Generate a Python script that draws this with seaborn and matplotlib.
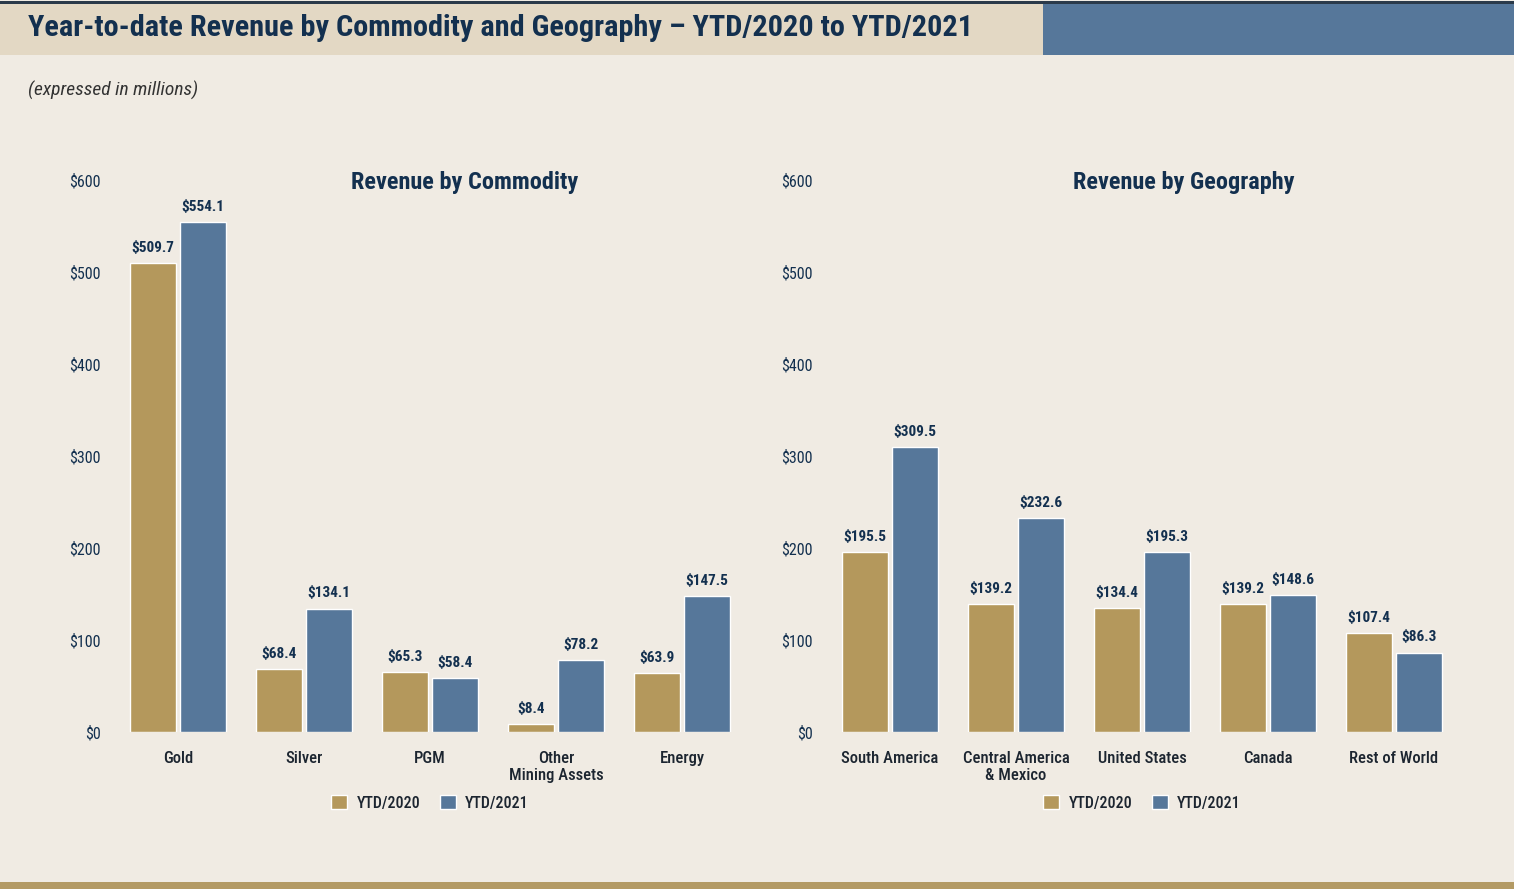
import pandas as pd
import matplotlib.pyplot as plt
import seaborn as sns
from matplotlib import font_manager as fm
from matplotlib.patches import Rectangle

# Receita acumulada no ano (em milhões)
commodities = ['Gold', 'Silver', 'PGM', 'Other\nMining Assets', 'Energy']
commodity_2020 = [509.7, 68.4, 65.3, 8.4, 63.9]
commodity_2021 = [554.1, 134.1, 58.4, 78.2, 147.5]

regions = ['South America', 'Central America\n& Mexico', 'United States', 'Canada', 'Rest of World']
region_2020 = [195.5, 139.2, 134.4, 139.2, 107.4]
region_2021 = [309.5, 232.6, 195.3, 148.6, 86.3]

years = ['YTD/2020', 'YTD/2021']
y_ticks = [0, 100, 200, 300, 400, 500, 600]

BG = '#f0ebe3'
NAVY = '#13304f'
GOLD = '#b4985c'
BLUE = '#56779a'

# fonte estreita, se houver
installed = {f.name for f in fm.fontManager.ttflist}
narrow = 'Liberation Sans'
for cand in ['Roboto Condensed', 'Liberation Sans Narrow', 'Archivo Narrow']:
    if cand in installed:
        narrow = cand
        break
FONT = [narrow, 'DejaVu Sans']


def long_df(cats, v20, v21):
    return pd.DataFrame({
        'cat': cats * 2,
        'val': v20 + v21,
        'year': [years[0]] * len(cats) + [years[1]] * len(cats),
    })


sns.set_theme(style='white')
plt.rcParams['font.family'] = FONT

fig = plt.figure(figsize=(15.14, 8.89), dpi=100, facecolor=BG)

# faixas do cabeçalho e rodapé
fig.patches.append(Rectangle((0, 1 - 55 / 889), 1043 / 1514, 51 / 889, transform=fig.transFigure,
                             facecolor='#e3d8c4', edgecolor='none', zorder=0))
fig.patches.append(Rectangle((1043 / 1514, 1 - 55 / 889), 1 - 1043 / 1514, 51 / 889, transform=fig.transFigure,
                             facecolor=BLUE, edgecolor='none', zorder=0))
fig.patches.append(Rectangle((0, 1 - 4 / 889), 1, 3 / 889, transform=fig.transFigure,
                             facecolor='#2b3a4a', edgecolor='none', zorder=0))
fig.patches.append(Rectangle((0, 0), 1, 7 / 889, transform=fig.transFigure,
                             facecolor='#b39a64', edgecolor='none', zorder=0))

title = fig.text(28 / 1514, 1 - 28 / 889,
                 'Year-to-date Revenue by Commodity and Geography \u2013 YTD/2020 to YTD/2021',
                 fontsize=21, fontweight='bold', color=NAVY, va='center', ha='left')
# ajusta o tamanho para ocupar a mesma largura do original (~944 px)
fig.canvas.draw()
w = title.get_window_extent().width
title.set_fontsize(min(24, 21 * 944 / w))

fig.text(28 / 1514, 1 - 90 / 889, '(expressed in millions)', fontsize=14, style='italic',
         color='#333333', va='center', ha='left')

panels = [
    (115, commodities, commodity_2020, commodity_2021, 'Revenue by Commodity', 465),
    (827, regions, region_2020, region_2021, 'Revenue by Geography', 1184),
]

for left_px, cats, v20, v21, sub, title_x in panels:
    ax = fig.add_axes([left_px / 1514, 1 - 732 / 889, 630 / 1514, 552 / 889])
    ax.set_facecolor(BG)
    df = long_df(cats, v20, v21)
    sns.barplot(data=df, x='cat', y='val', hue='year', palette=[GOLD, BLUE],
                width=0.8, gap=0.08, saturation=1, ax=ax)
    for cont in ax.containers:
        ax.bar_label(cont, labels=[f'${v:.1f}' for v in cont.datavalues], padding=6,
                     fontsize=11, fontweight='bold', color=NAVY)
    ax.set_ylim(0, 600)
    ax.set_xlim(-0.5, 4.5)
    ax.set_yticks(y_ticks)
    ax.set_yticklabels([f'${t}' for t in y_ticks], fontsize=11.5, color=NAVY)
    ax.tick_params(axis='x', labelsize=12, colors='#1c2530', length=0, pad=14)
    for lbl in ax.get_xticklabels():
        lbl.set_fontweight('medium')
        lbl.set_linespacing(1.1)
    ax.tick_params(axis='y', length=0, pad=10)
    ax.set_xlabel('')
    ax.set_ylabel('')
    sns.despine(ax=ax, left=True, bottom=True)
    leg = ax.legend(loc='upper center', bbox_to_anchor=(0.5, -0.088), ncol=2, frameon=False,
                    fontsize=11.5, handlelength=1.0, handleheight=1.0, handletextpad=0.6,
                    columnspacing=1.2)
    for t in leg.get_texts():
        t.set_fontweight('medium')
        t.set_color('#1c2530')
    fig.text(title_x / 1514, 1 - 182 / 889, sub, fontsize=17.5, fontweight='bold',
             color=NAVY, ha='center', va='center')

fig.savefig('out.png', dpi=100, facecolor=BG)
